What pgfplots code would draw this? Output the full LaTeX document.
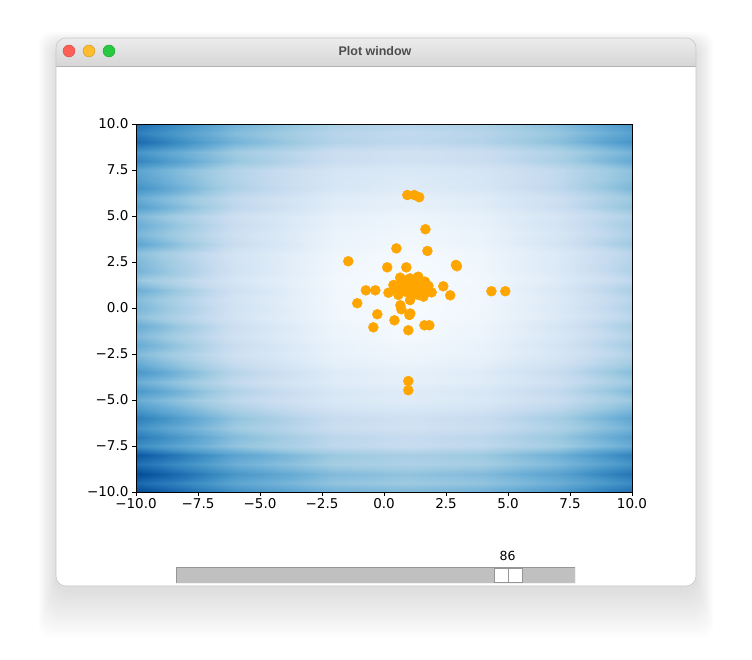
\documentclass[border=0pt]{standalone}
\usepackage{fontspec}
\setmainfont{DejaVu Sans}
\newfontfamily\titlefont{Liberation Sans}
\usepackage{pgfplots}
\pgfplotsset{compat=1.18}
\definecolor{mplorange}{RGB}{255,165,0}
\definecolor{tbtop}{RGB}{236,236,236}
\definecolor{tbbot}{RGB}{214,214,214}
\definecolor{tbline}{RGB}{180,180,180}
\definecolor{winborder}{RGB}{200,200,200}
\definecolor{tlred}{RGB}{254,95,87}
\definecolor{tlyellow}{RGB}{254,188,46}
\definecolor{tlgreen}{RGB}{40,200,64}
\definecolor{titlegray}{RGB}{77,77,77}
\definecolor{slidergray}{RGB}{192,192,192}
\definecolor{sliderdark}{RGB}{150,150,150}
\pgfplotstableread{
x y c
-10 -10 242
-6 -10 170
-2 -10 130
1 -10 121
4 -10 130
7 -10 157
10 -10 202
-10 -9.5 208
-6 -9.5 143
-2 -9.5 107
1 -9.5 99
4 -9.5 107
7 -9.5 132
10 -9.5 172
-10 -9 239
-6 -9 161
-2 -9 118
1 -9 108
4 -9 118
7 -9 147
10 -9 195
-10 -8.5 201
-6 -8.5 132
-2 -8.5 94
1 -8.5 86
4 -8.5 94
7 -8.5 120
10 -8.5 163
-10 -8 226
-6 -8 146
-2 -8 101
1 -8 91
4 -8 101
7 -8 131
10 -8 181
-10 -7.5 170
-6 -7.5 107
-2 -7.5 72
1 -7.5 64
4 -7.5 72
7 -7.5 95
10 -7.5 135
-10 -7 191
-6 -7 116
-2 -7 75
1 -7 66
4 -7 75
7 -7 103
10 -7 149
-10 -6.5 165
-6 -6.5 98
-2 -6.5 61
1 -6.5 52
4 -6.5 61
7 -6.5 86
10 -6.5 128
-10 -6 187
-6 -6 108
-2 -6 64
1 -6 54
4 -6 64
7 -6 94
10 -6 143
-10 -5.5 158
-6 -5.5 89
-2 -5.5 50
1 -5.5 41
4 -5.5 50
7 -5.5 76
10 -5.5 120
-10 -5 135
-6 -5 73
-2 -5 39
1 -5 31
4 -5 39
7 -5 62
10 -5 101
-10 -4.5 160
-6 -4.5 84
-2 -4.5 42
1 -4.5 32
4 -4.5 42
7 -4.5 70
10 -4.5 118
-10 -4 134
-6 -4 68
-2 -4 31
1 -4 23
4 -4 31
7 -4 56
10 -4 98
-10 -3.5 161
-6 -3.5 79
-2 -3.5 33
1 -3.5 23
4 -3.5 33
7 -3.5 64
10 -3.5 115
-10 -3 136
-6 -3 64
-2 -3 25
1 -3 16
4 -3 25
7 -3 51
10 -3 96
-10 -2.5 119
-6 -2.5 55
-2 -2.5 19
1 -2.5 11
4 -2.5 19
7 -2.5 43
10 -2.5 83
-10 -2 137
-6 -2 61
-2 -2 19
1 -2 9
4 -2 19
7 -2 47
10 -2 95
-10 -1.5 120
-6 -1.5 52
-2 -1.5 14
1 -1.5 6
4 -1.5 14
7 -1.5 40
10 -1.5 82
-10 -1 136
-6 -1 58
-2 -1 14
1 -1 4
4 -1 14
7 -1 44
10 -1 93
-10 -0.5 112
-6 -0.5 47
-2 -0.5 10
1 -0.5 2
4 -0.5 10
7 -0.5 35
10 -0.5 76
-10 0 124
-6 0 51
-2 0 10
1 0 1
4 0 10
7 0 38
10 0 84
-10 0.5 116
-6 0.5 47
-2 0.5 9
1 0.5 0
4 0.5 9
7 0.5 35
10 0.5 78
-10 1 134
-6 1 54
-2 1 10
1 1 0
4 1 10
7 1 40
10 1 90
-10 1.5 105
-6 1.5 43
-2 1.5 8
1 1.5 0
4 1.5 8
7 1.5 32
10 1.5 71
-10 2 127
-6 2 52
-2 2 10
1 2 1
4 2 10
7 2 38
10 2 85
-10 2.5 121
-6 2.5 50
-2 2.5 11
1 2.5 2
4 2.5 11
7 2.5 37
10 2.5 82
-10 3 113
-6 3 48
-2 3 12
1 3 4
4 3 12
7 3 36
10 3 77
-10 3.5 144
-6 3.5 62
-2 3.5 17
1 3.5 7
4 3.5 17
7 3.5 48
10 3.5 99
-10 4 124
-6 4 55
-2 4 17
1 4 9
4 4 17
7 4 43
10 4 86
-10 4.5 135
-6 4.5 62
-2 4.5 21
1 4.5 12
4 4.5 21
7 4.5 49
10 4.5 94
-10 5 121
-6 5 57
-2 5 22
1 5 14
4 5 22
7 5 46
10 5 85
-10 5.5 151
-6 5.5 74
-2 5.5 31
1 5.5 22
4 5.5 31
7 5.5 60
10 5.5 108
-10 6 136
-6 6 69
-2 6 32
1 6 23
4 6 32
7 6 57
10 6 99
-10 6.5 166
-6 6.5 87
-2 6.5 43
1 6.5 33
4 6.5 43
7 6.5 73
10 6.5 122
-10 7 152
-6 7 82
-2 7 44
1 7 35
4 7 44
7 7 70
10 7 113
-10 7.5 145
-6 7.5 81
-2 7.5 46
1 7.5 38
4 7.5 46
7 7.5 70
10 7.5 110
-10 8 180
-6 8 104
-2 8 61
1 8 52
4 8 61
7 8 90
10 8 138
-10 8.5 163
-6 8.5 97
-2 8.5 60
1 8.5 52
4 8.5 60
7 8.5 85
10 8.5 126
-10 9 207
-6 9 127
-2 9 82
1 9 72
4 9 82
7 9 112
10 9 162
-10 9.5 186
-6 9.5 116
-2 9.5 78
1 9.5 69
4 9.5 78
7 9.5 104
10 9.5 147
-10 10 202
-6 10 130
-2 10 90
1 10 81
4 10 90
7 10 117
10 10 162
}\fieldtable
\pgfplotstableread{
x y
0.94 6.14
1.22 6.14
1.42 6.02
1.67 4.28
0.50 3.24
1.75 3.10
-1.44 2.54
0.13 2.21
0.90 2.21
2.90 2.34
2.94 2.27
2.39 1.18
2.67 0.69
4.33 0.91
4.89 0.91
-0.73 0.96
-0.35 0.96
-1.08 0.26
-0.27 -0.34
-0.43 -1.05
0.42 -0.67
0.98 -1.21
1.02 -0.38
1.06 -0.30
1.63 -0.94
1.83 -0.94
0.66 0.15
0.70 -0.07
0.98 -3.97
0.98 -4.47
0.65 1.65
1.05 1.61
1.38 1.70
1.65 1.43
1.79 1.20
1.92 0.85
1.59 0.62
1.38 0.71
1.18 0.98
0.91 1.16
0.71 1.34
0.38 1.25
0.18 0.83
0.58 0.71
1.05 0.43
0.85 0.89
1.45 1.07
1.25 1.34
0.51 0.98
1.72 0.98
1.12 0.71
0.78 1.52
}\pointtable
\begin{document}
\begin{tikzpicture}[x=1pt,y=1pt]
\useasboundingbox (0,0) rectangle (752,660);
\fill[white] (0,0) rectangle (752,660);
% window shadow
\foreach \i in {1,...,16} {
  \fill[black, opacity=0.008, rounded corners=14]
    ({56-1.1*\i},{660-(590+3*\i)}) rectangle ({696+1.1*\i},{660-(46-0.9*\i)});
}
% window
\fill[white, rounded corners=10] (56,74) rectangle (696,622);
\begin{scope}
  \clip[rounded corners=10] (56,74) rectangle (696,622);
  \shade[top color=tbtop, bottom color=tbbot] (56,594) rectangle (696,622);
\end{scope}
\draw[tbline, line width=0.8pt] (56,594) -- (696,594);
\draw[winborder, line width=0.6pt, rounded corners=10] (56,74) rectangle (696,622);
% traffic lights
\fill[tlred] (69,609) circle (6);
\draw[tlred!80!black, line width=0.4pt] (69,609) circle (6);
\fill[tlyellow] (89,609) circle (6);
\draw[tlyellow!80!black, line width=0.4pt] (89,609) circle (6);
\fill[tlgreen] (109,609) circle (6);
\draw[tlgreen!80!black, line width=0.4pt] (109,609) circle (6);
\node[text=titlegray] at (375,609) {\titlefont\bfseries\fontsize{12.5}{14}\selectfont Plot window};
% axis
\begin{axis}[
  at={(136pt,168pt)}, anchor=south west,
  width=496pt, height=368pt, scale only axis,
  xmin=-10, xmax=10, ymin=-10, ymax=10,
  enlargelimits=false,
  axis on top,
  axis line style={black, line width=0.9pt},
  tick align=outside, xtick pos=bottom, ytick pos=left,
  major tick length=4pt,
  every tick/.style={black, line width=0.9pt},
  xtick={-10,-7.5,-5,-2.5,0,2.5,5,7.5,10},
  ytick={-10,-7.5,-5,-2.5,0,2.5,5,7.5,10},
  xticklabels={−10.0,−7.5,−5.0,−2.5,0.0,2.5,5.0,7.5,10.0},
  yticklabels={−10.0,−7.5,−5.0,−2.5,0.0,2.5,5.0,7.5,10.0},
  tick label style={font=\fontsize{13.5}{15}\selectfont},
  xticklabel style={yshift=1pt},
  colormap={mplblues}{rgb255=(247,251,255) rgb255=(222,235,247) rgb255=(198,219,239) rgb255=(158,202,225) rgb255=(107,174,214) rgb255=(66,146,198) rgb255=(33,113,181) rgb255=(8,81,156) rgb255=(8,48,107)},
  point meta min=0, point meta max=265,
]
\addplot[surf, shader=interp, mesh/cols=7, point meta=explicit] table[x=x, y=y, meta=c] {\fieldtable};
\addplot[only marks, mark=*, mark size=5pt, mplorange, mark options={fill=mplorange, draw=none}] table[x=x, y=y] {\pointtable};
\end{axis}
% slider
\node at (507.5,104) {\fontsize{12.5}{14}\selectfont 86};
\fill[slidergray] (176,77) rectangle (575,93);
\draw[sliderdark, line width=0.8pt] (176,77) -- (176,93) -- (575,93);
\draw[white!90!gray, line width=0.8pt] (176,77) -- (575,77) -- (575,93);
\fill[white] (494,78) rectangle (522,92);
\draw[sliderdark, line width=0.6pt] (494,78) rectangle (522,92);
\draw[sliderdark, line width=0.6pt] (508,78) -- (508,92);
\end{tikzpicture}
\end{document}
